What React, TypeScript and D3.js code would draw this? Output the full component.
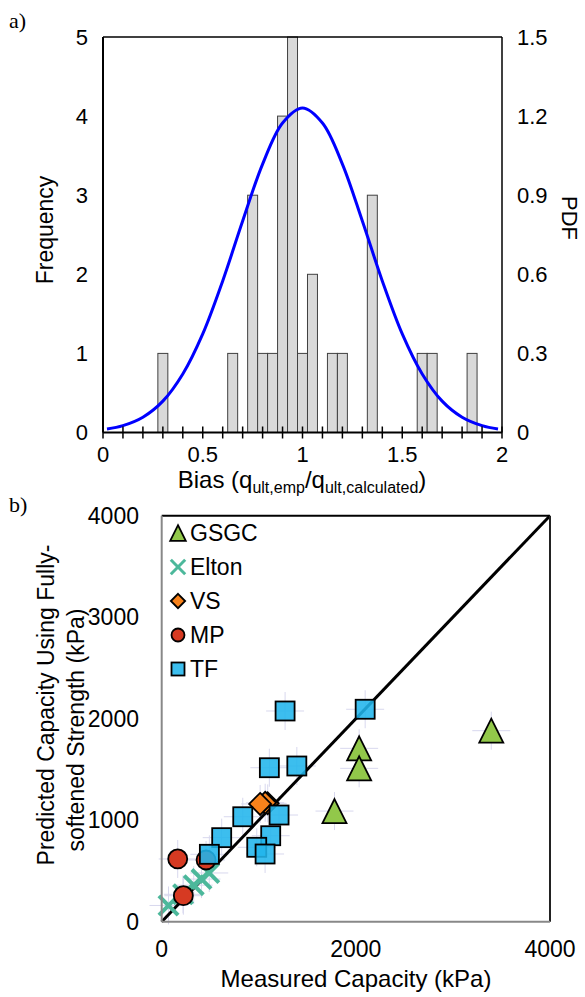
import React from "react";
import * as d3 from "d3";

// panel a) histogram of bias + fitted PDF
const binCenters = [0.3, 0.65, 0.75, 0.8, 0.85, 0.9, 0.95, 1.0, 1.05, 1.15, 1.2, 1.35, 1.6, 1.65, 1.85];
const binCounts = [1, 1, 3, 1, 1, 4, 5, 1, 2, 1, 1, 3, 1, 1, 1];
const pdfX = [0.02, 0.1, 0.2, 0.3, 0.4, 0.5, 0.6, 0.7, 0.8, 0.9, 1.0, 1.1, 1.2, 1.3, 1.4, 1.5, 1.6, 1.7, 1.8, 1.9, 1.98];
const pdfY = [0.013, 0.026, 0.058, 0.119, 0.222, 0.374, 0.575, 0.802, 1.018, 1.174, 1.231, 1.174, 1.018, 0.802, 0.575, 0.374, 0.222, 0.119, 0.058, 0.026, 0.013];
const freqTicks = [0, 1, 2, 3, 4, 5];
const pdfTicks = [0, 0.3, 0.6, 0.9, 1.2, 1.5];
const biasTicks = [0, 0.5, 1, 1.5, 2];

// panel b) measured vs predicted capacity
const gsgcX = [3395, 2034, 2034, 1780];
const gsgcY = [1882, 1708, 1511, 1090];
const eltonX = [70, 220, 330, 410, 490];
const eltonY = [160, 270, 360, 420, 480];
const vsX = [1092, 1066, 1014];
const vsY = [1166, 1172, 1160];
const mpX = [165, 457, 223];
const mpY = [618, 608, 256];
const tfX = [1271, 2096, 1109, 1392, 835, 1209, 618, 1123, 979, 1065, 491];
const tfY = [2076, 2093, 1517, 1534, 1034, 1051, 828, 847, 733, 667, 664];
const capTicks = [0, 1000, 2000, 3000, 4000];
const capXTicks = [0, 2000, 4000];
const legendNames = ["GSGC", "Elton", "VS", "MP", "TF"];

const font = "'Liberation Sans', Arial, sans-serif";
const green = "#92c84a";
const teal = "#4cb89b";
const orange = "#f7821b";
const red = "#d63a22";
const blue = "#21b5ec";

const Marker = ({ kind, x, y, s }: { kind: string; x: number; y: number; s: number }) => {
  if (kind === "GSGC") {
    const h = s * 1.2;
    return (
      <path
        d={`M${x},${y - h / 2}L${x + h / 2},${y + h / 2}L${x - h / 2},${y + h / 2}Z`}
        fill={green}
        stroke="#000"
        strokeWidth={1.8}
      />
    );
  }
  if (kind === "Elton") {
    const a = s * 0.48;
    return (
      <g stroke={teal} strokeWidth={s * 0.2}>
        <line x1={x - a} y1={y - a} x2={x + a} y2={y + a} />
        <line x1={x - a} y1={y + a} x2={x + a} y2={y - a} />
      </g>
    );
  }
  if (kind === "VS") {
    const a = s * 0.55;
    return (
      <path
        d={`M${x},${y - a}L${x + a},${y}L${x},${y + a}L${x - a},${y}Z`}
        fill={orange}
        stroke="#000"
        strokeWidth={1.8}
      />
    );
  }
  if (kind === "MP") {
    return <circle cx={x} cy={y} r={s / 2} fill={red} stroke="#000" strokeWidth={1.8} />;
  }
  return (
    <rect
      x={x - s / 2}
      y={y - s / 2}
      width={s}
      height={s}
      fill={blue}
      fillOpacity={0.88}
      stroke="#000"
      strokeWidth={1.8}
    />
  );
};

export default function App() {
  // ---- panel a
  const ax = d3.scaleLinear().domain([0, 2]).range([103, 502]);
  const ay = d3.scaleLinear().domain([0, 5]).range([432.5, 37]);
  const ay2 = d3.scaleLinear().domain([0, 1.5]).range([432.5, 37]);
  const pdfLine = d3
    .line<number>()
    .x((d, i) => ax(pdfX[i]))
    .y((d) => ay2(d))
    .curve(d3.curveCatmullRom);
  const minorTicks = d3.range(0, 21).map((i) => i / 10);

  // ---- panel b
  const bx = d3.scaleLinear().domain([0, 4000]).range([161.7, 550]);
  const by = d3.scaleLinear().domain([0, 4000]).range([921.7, 515.7]);

  const series = [
    { name: "GSGC", xs: gsgcX, ys: gsgcY, s: 20 },
    { name: "Elton", xs: eltonX, ys: eltonY, s: 20 },
    { name: "VS", xs: vsX, ys: vsY, s: 20 },
    { name: "MP", xs: mpX, ys: mpY, s: 19 },
    { name: "TF", xs: tfX, ys: tfY, s: 19 },
  ];

  return (
    <svg
      width={585}
      height={997}
      style={{ position: "absolute", left: 0, top: 0, background: "#fff" }}
      fontFamily={font}
    >
      <rect width={585} height={997} fill="#fff" />
      <text x={9} y={28} fontFamily="'Liberation Serif', 'Times New Roman', serif" fontSize={22}>
        a)
      </text>

      {/* histogram bars */}
      {binCenters.map((c, i) => (
        <rect
          key={i}
          x={ax(c - 0.025)}
          y={ay(binCounts[i])}
          width={ax(0.05) - ax(0)}
          height={ay(0) - ay(binCounts[i])}
          fill="#d9d9d9"
          stroke="#404040"
          strokeWidth={1}
        />
      ))}

      {/* frame */}
      <line x1={103} y1={37} x2={502} y2={37} stroke="#000" strokeWidth={1.5} />
      <line x1={502} y1={37} x2={502} y2={432.5} stroke="#000" strokeWidth={1.5} />
      <line x1={103} y1={37} x2={103} y2={432.5} stroke="#000" strokeWidth={2} />

      <path d={pdfLine(pdfY) || ""} fill="none" stroke="#0000ff" strokeWidth={3} />

      <line x1={103} y1={432.5} x2={502} y2={432.5} stroke="#000" strokeWidth={2} />
      {minorTicks.map((t) => (
        <line key={t} x1={ax(t)} x2={ax(t)} y1={426.5} y2={438.5} stroke="#000" strokeWidth={1.5} />
      ))}

      {freqTicks.map((t) => (
        <text key={t} x={88} y={ay(t)} dy="0.35em" textAnchor="end" fontSize={22}>
          {t}
        </text>
      ))}
      {pdfTicks.map((t) => (
        <text key={t} x={517} y={ay2(t)} dy="0.35em" textAnchor="start" fontSize={22}>
          {t}
        </text>
      ))}
      {biasTicks.map((t) => (
        <text key={t} x={ax(t)} y={462} textAnchor="middle" fontSize={22}>
          {t}
        </text>
      ))}
      <text transform="translate(53,230) rotate(-90)" textAnchor="middle" fontSize={23}>
        Frequency
      </text>
      <text transform="translate(562,218) rotate(90)" textAnchor="middle" fontSize={22}>
        PDF
      </text>
      <text x={302} y={488} textAnchor="middle" fontSize={24}>
        Bias (q
        <tspan fontSize={16} dy={5}>ult,emp</tspan>
        <tspan dy={-5}>/q</tspan>
        <tspan fontSize={16} dy={5}>ult,calculated</tspan>
        <tspan dy={-5}>)</tspan>
      </text>

      {/* ---- panel b */}
      <text x={9} y={512} fontFamily="'Liberation Serif', 'Times New Roman', serif" fontSize={22}>
        b)
      </text>

      {/* faint error crosshairs */}
      {series.map((sr) =>
        sr.xs.map((v, i) => (
          <g key={sr.name + i} stroke="#d8d8ee" strokeWidth={1}>
            <line x1={bx(v) - 19} x2={bx(v) + 19} y1={by(sr.ys[i])} y2={by(sr.ys[i])} />
            <line x1={bx(v)} x2={bx(v)} y1={by(sr.ys[i]) - 19} y2={by(sr.ys[i]) + 19} />
          </g>
        ))
      )}

      <line x1={bx(0)} y1={by(0)} x2={bx(4000)} y2={by(4000)} stroke="#000" strokeWidth={3} />

      {series.map((sr) =>
        sr.xs.map((v, i) => <Marker key={sr.name + i} kind={sr.name} x={bx(v)} y={by(sr.ys[i])} s={sr.s} />)
      )}

      <line x1={161.7} y1={515.7} x2={550} y2={515.7} stroke="#000" strokeWidth={2} />
      <line x1={550} y1={515.7} x2={550} y2={921.7} stroke="#222" strokeWidth={2} />
      <line x1={161.7} y1={515.7} x2={161.7} y2={921.7} stroke="#888" strokeWidth={2} />
      <line x1={161.7} y1={921.7} x2={550} y2={921.7} stroke="#888" strokeWidth={2} />

      {legendNames.map((n, i) => (
        <g key={n}>
          <Marker kind={n} x={178} y={533 + i * 34} s={n === "Elton" ? 15 : 13} />
          <text x={190} y={533 + i * 34} dy="0.35em" fontSize={23}>
            {n}
          </text>
        </g>
      ))}

      {capTicks.map((t) => (
        <text key={t} x={139} y={by(t)} dy="0.35em" textAnchor="end" fontSize={23}>
          {t}
        </text>
      ))}
      {capXTicks.map((t) => (
        <text key={t} x={bx(t)} y={957} textAnchor="middle" fontSize={23}>
          {t}
        </text>
      ))}
      <text x={356} y={987} textAnchor="middle" fontSize={24}>
        Measured Capacity (kPa)
      </text>
      <text transform="translate(54,705) rotate(-90)" textAnchor="middle" fontSize={23}>
        Predicted Capacity Using Fully-
      </text>
      <text transform="translate(84,730) rotate(-90)" textAnchor="middle" fontSize={23}>
        softened Strength (kPa)
      </text>
    </svg>
  );
}
